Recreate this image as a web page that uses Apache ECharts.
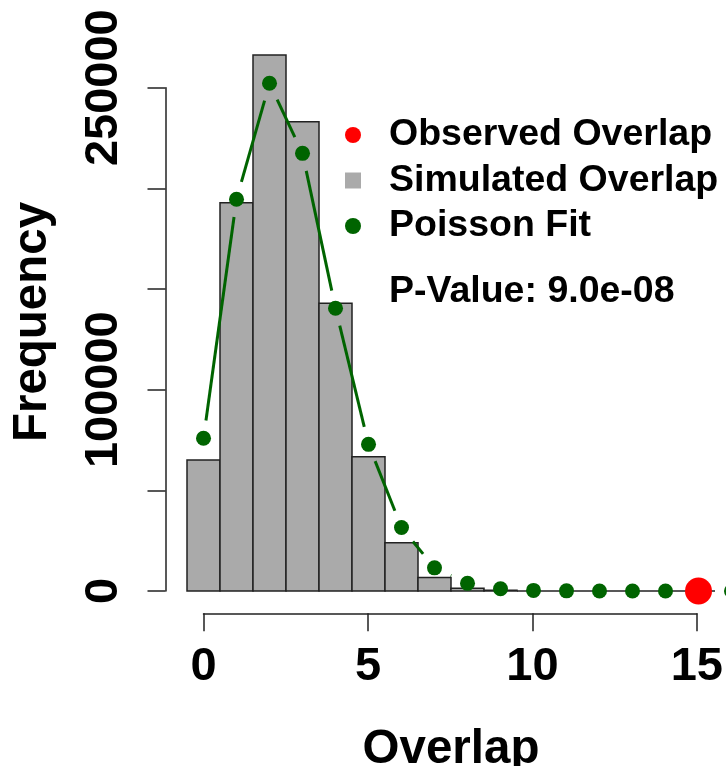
<!DOCTYPE html>
<html>
<head>
<meta charset="utf-8">
<script src="https://cdn.jsdelivr.net/npm/echarts@6/dist/echarts.min.js"></script>
<style>
html,body{margin:0;padding:0;background:#fff;}
#chart{width:726px;height:766px;}
</style>
</head>
<body>
<div id="chart"></div>
<script>
// ---- data ----
const binCenters = [0,1,2,3,4,5,6,7,8,9,10,11,12,13,14,15];
const simulatedCounts = [65000,192800,266100,233000,142900,66700,24000,6700,1340,400,0,0,0,0,0,0];
const poissonX = [0,1,2,3,4,5,6,7,8,9,10,11,12,13,14,15,16];
const poissonFit = [75800,194500,252100,217300,140400,72800,31500,11500,3800,1100,290,70,15,3,1,0,0];
const observedX = [15];
const observedY = [0];
const xTicks = [0,5,10,15];
const yTicks = [0,50000,100000,150000,200000,250000];
const yTickLabels = ['0','','100000','','','250000'];
const pValueText = 'P-Value: 9.0e-08';

const FONT = '"Liberation Sans", Arial, sans-serif';
const GREEN = '#006400';
const GRAY = '#AAAAAA';

const barData = binCenters.map((c,i)=>[c-0.5, c+0.5, simulatedCounts[i]]);
const segData = [];
for (let i=0;i<poissonX.length-1;i++) segData.push([poissonX[i],poissonFit[i],poissonX[i+1],poissonFit[i+1]]);

const chart = echarts.init(document.getElementById('chart'), null, {renderer:'canvas'});
const option = {
  backgroundColor:'#fff',
  animation:false,
  grid:[
    {left:154, right:0, top:6.9, height:614.3},
    {left:203.5, width:495, top:560, height:53.3},
    {left:165.5, width:1, top:87.7, height:503.3}
  ],
  xAxis:[
    {gridIndex:0, type:'value', min:-1.5, max:15.8333, show:false},
    {gridIndex:1, type:'value', min:0, max:15, interval:5, position:'bottom',
     axisLine:{show:true, lineStyle:{color:'#222', width:1.5}},
     axisTick:{show:true, length:18, inside:false, lineStyle:{color:'#222', width:1.5}},
     splitLine:{show:false},
     axisLabel:{show:true, margin:30, fontSize:47, fontWeight:'bold', color:'#000', fontFamily:FONT,
       formatter:(v)=> xTicks.indexOf(v)>=0 ? String(v) : ''}
    },
    {gridIndex:2, type:'value', min:0, max:1, show:false}
  ],
  yAxis:[
    {gridIndex:0, type:'value', min:-15000, max:290000, show:false},
    {gridIndex:1, type:'value', min:0, max:1, show:false},
    {gridIndex:2, type:'value', min:0, max:250000, interval:50000, position:'left',
     axisLine:{show:true, lineStyle:{color:'#222', width:1.5}},
     axisTick:{show:true, length:18, inside:false, lineStyle:{color:'#222', width:1.5}},
     splitLine:{show:false},
     axisLabel:{show:true, rotate:90, margin:38, fontSize:47, fontWeight:'bold', color:'#000', fontFamily:FONT,
       formatter:(v)=>{const i=yTicks.indexOf(v); return i>=0 ? yTickLabels[i] : '';}}
    }
  ],
  legend:{
    show:true, orient:'vertical', left:345, top:115, padding:0, selectedMode:false,
    itemWidth:16, itemHeight:16, itemGap:5.5,
    textStyle:{fontSize:37.5, fontWeight:'bold', color:'#000', fontFamily:FONT, lineHeight:40, padding:[0,0,0,23]},
    data:[
      {name:'Observed Overlap', icon:'circle', itemStyle:{color:'#FF0000'}},
      {name:'Simulated Overlap', icon:'rect', itemStyle:{color:GRAY, borderWidth:0}},
      {name:'Poisson Fit', icon:'circle', itemStyle:{color:GREEN}}
    ]
  },
  graphic:[
    {type:'text', left:389, top:273, style:{text:pValueText, fontSize:37.5, fontWeight:'bold', fill:'#000', fontFamily:FONT}},
    {type:'text', x:451, y:750, style:{text:'Overlap', fontSize:47.5, fontWeight:'bold', fill:'#000', fontFamily:FONT, align:'center', verticalAlign:'middle'}},
    {type:'text', x:33, y:322, rotation:Math.PI/2, style:{text:'Frequency', fontSize:47.5, fontWeight:'bold', fill:'#000', fontFamily:FONT, align:'center', verticalAlign:'middle'}}
  ],
  series:[
    {
      name:'Simulated Overlap', type:'custom', xAxisIndex:0, yAxisIndex:0, z:2,
      data:barData, clip:false,
      renderItem:(params, api)=>{
        const p0 = api.coord([api.value(0), api.value(2)]);
        const p1 = api.coord([api.value(1), 0]);
        return {type:'rect', shape:{x:p0[0], y:p0[1], width:p1[0]-p0[0], height:p1[1]-p0[1]},
          style:{fill:GRAY, stroke:'#222', lineWidth:1.5}};
      }
    },
    {
      name:'Poisson Line', type:'custom', xAxisIndex:0, yAxisIndex:0, z:3,
      data:segData, clip:false, silent:true,
      renderItem:(params, api)=>{
        const a = api.coord([api.value(0), api.value(1)]);
        const b = api.coord([api.value(2), api.value(3)]);
        const dx=b[0]-a[0], dy=b[1]-a[1];
        const len=Math.sqrt(dx*dx+dy*dy);
        const gap=18;
        if (len <= 2*gap) return null;
        const ux=dx/len, uy=dy/len;
        return {type:'line', shape:{x1:a[0]+ux*gap, y1:a[1]+uy*gap, x2:b[0]-ux*gap, y2:b[1]-uy*gap},
          style:{stroke:GREEN, lineWidth:3}};
      }
    },
    {
      name:'Poisson Fit', type:'scatter', xAxisIndex:0, yAxisIndex:0, z:4,
      symbol:'circle', symbolSize:15, clip:false,
      itemStyle:{color:GREEN, opacity:1},
      data:poissonX.map((x,i)=>[x, poissonFit[i]])
    },
    {
      name:'Observed Overlap', type:'scatter', xAxisIndex:0, yAxisIndex:0, z:5,
      symbol:'circle', symbolSize:27, clip:false,
      itemStyle:{color:'#FF0000', opacity:1},
      data:observedX.map((x,i)=>[x, observedY[i]])
    }
  ]
};
chart.setOption(option);
</script>
</body>
</html>
